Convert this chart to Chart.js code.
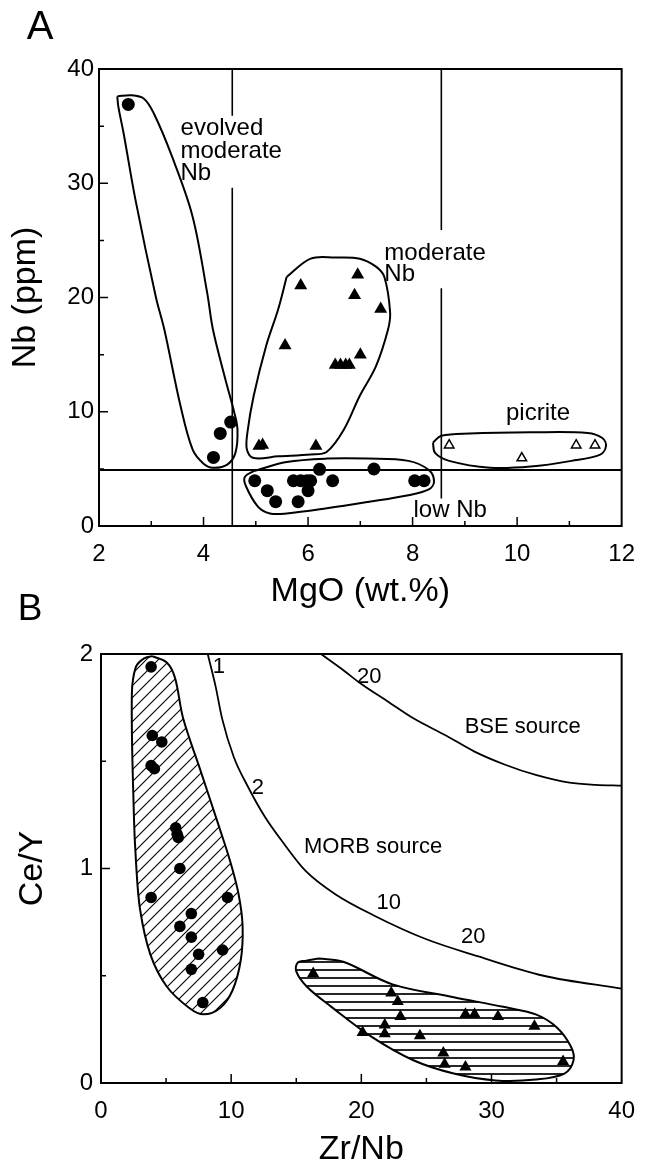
<!DOCTYPE html>
<html>
<head>
<meta charset="utf-8">
<script src="https://cdn.jsdelivr.net/npm/chart.js"></script>
<style>
  body { margin: 0; background: #fff; }
  canvas { position: absolute; left: 0; }
</style>
</head>
<body>
<canvas id="chartA" width="649" height="620" style="top:0"></canvas>
<canvas id="chartB" width="649" height="575" style="top:590px"></canvas>
<script>
// ---------- panel A : Nb vs MgO ----------
const aXTicks = [2, 4, 6, 8, 10, 12];
const aYTicks = [0, 10, 20, 30, 40];
const aXMinor = [3, 5, 7, 9, 11];
const aXMajorIn = [4, 6, 8, 10];
const aYMinor = [5, 15, 25, 35];
const aYMajorIn = [10, 20, 30];

const evolvedX = [2.56, 4.19, 4.32, 4.52];
const evolvedY = [36.9, 6.0, 8.1, 9.1];
const lowNbX = [4.98, 5.22, 5.38, 5.72, 5.86, 5.98, 6.05, 6.00, 5.81, 6.22, 6.47, 7.26, 8.04, 8.22];
const lowNbY = [3.96, 3.09, 2.13, 3.96, 3.96, 3.96, 3.96, 3.09, 2.13, 4.96, 3.96, 4.99, 3.96, 3.96];
const modNbX = [5.86, 6.95, 6.89, 7.39, 5.56, 7.00, 6.52, 6.62, 6.72, 6.79, 5.06, 5.13, 6.15];
const modNbY = [21.05, 22.0, 20.2, 19.0, 15.8, 15.0, 14.1, 14.1, 14.1, 14.1, 7.0, 7.1, 7.0];
const picriteX = [8.70, 10.09, 11.13, 11.49];
const picriteY = [7.07, 5.95, 7.07, 7.07];

const envEvolvedX = [2.35, 2.62, 2.86, 3.05, 3.40, 3.79, 4.07, 4.18, 4.42, 4.59, 4.65, 4.61, 4.46, 4.18, 3.99, 3.79, 3.56, 3.25, 3.09, 2.70, 2.47, 2.37, 2.35];
const envEvolvedY = [37.6, 37.7, 37.4, 36.1, 32.3, 27.1, 20.4, 17.2, 12.8, 9.9, 8.4, 6.4, 5.4, 5.1, 5.5, 6.7, 10.5, 17.2, 20, 28.5, 34.4, 36.7, 37.6];
const envModX = [5.59, 6.05, 6.52, 6.99, 7.30, 7.46, 7.57, 7.53, 7.30, 6.99, 6.68, 6.36, 6.05, 5.43, 4.96, 4.83, 4.84, 4.96, 5.20, 5.43, 5.59];
const envModY = [21.8, 23.4, 23.5, 23.4, 22.7, 21.8, 18.7, 17.2, 14.0, 11.4, 8.4, 6.5, 6.25, 6.1, 5.95, 6.7, 8.2, 11.4, 15.8, 19.0, 21.8];
const envLowX = [4.96, 5.59, 6.36, 7.14, 7.92, 8.31, 8.41, 8.31, 7.92, 7.14, 6.36, 5.59, 5.27, 5.04, 4.81, 4.79, 4.96];
const envLowY = [4.8, 5.6, 5.9, 5.9, 5.7, 4.9, 3.9, 3.2, 2.7, 2.1, 1.55, 1.1, 1.1, 1.7, 3.5, 4.3, 4.8];
const envPicX = [8.39, 8.55, 9.09, 10.26, 11.35, 11.63, 11.70, 11.59, 11.04, 10.26, 9.48, 8.70, 8.43, 8.39];
const envPicY = [7.3, 7.9, 8.1, 8.2, 8.15, 7.7, 7.0, 6.25, 5.7, 5.2, 5.1, 5.7, 6.4, 7.3];

// dividing lines (MgO = 4.55 and 8.55, Nb = 4.9), with gaps for the labels
const divMgO = [4.55, 4.55, 8.55, 8.55];
const divMgOFrom = [40, 29.6, 40, 20.8];
const divMgOTo = [35.9, 0, 25.9, 2.4];
const divNb = 4.9;

const aLabelText = ["evolved", "moderate", "Nb", "moderate", "Nb", "picrite", "low Nb"];
const aLabelX = [3.56, 3.56, 3.56, 7.46, 7.46, 10.40, 8.72];
const aLabelY = [34.8, 32.8, 30.9, 23.9, 22.0, 9.9, 1.4];
const aLabelAlign = ["left", "left", "left", "left", "left", "center", "center"];

// ---------- panel B : Ce/Y vs Zr/Nb ----------
const bXTicks = [0, 10, 20, 30, 40];
const bYTicks = [0, 1, 2];
const bXMinor = [5, 15, 25, 35];
const bXMajorIn = [10, 20, 30];
const bYMinor = [0.5, 1.5];
const bYMajorIn = [1];

const circB_X = [3.85, 3.94, 4.67, 3.85, 4.10, 5.74, 5.93, 5.85, 6.06, 3.85, 9.72, 6.94, 6.06, 6.94, 9.34, 7.50, 6.94, 7.82];
const circB_Y = [1.94, 1.62, 1.59, 1.48, 1.465, 1.19, 1.145, 1.16, 1.0, 0.865, 0.865, 0.79, 0.73, 0.68, 0.62, 0.60, 0.53, 0.375];
const triB_X = [16.3, 22.3, 22.8, 23.0, 28.0, 28.7, 30.5, 33.3, 20.1, 21.8, 21.8, 24.5, 26.3, 26.4, 28.0, 35.5];
const triB_Y = [0.51, 0.42, 0.38, 0.31, 0.32, 0.32, 0.31, 0.265, 0.235, 0.27, 0.23, 0.22, 0.14, 0.087, 0.075, 0.10];

const morbX = [8.2, 8.8, 9.3, 10.2, 11.3, 12.6, 14.0, 15.7, 18, 21, 25, 29, 34, 40];
const morbY = [2.0, 1.85, 1.7, 1.52, 1.38, 1.24, 1.12, 0.99, 0.88, 0.78, 0.67, 0.59, 0.5, 0.44];
const bseX = [16.9, 18.5, 20, 22, 24, 26.5, 28.7, 31, 33.4, 36, 38, 40];
const bseY = [2.0, 1.93, 1.86, 1.78, 1.70, 1.62, 1.545, 1.485, 1.436, 1.40, 1.39, 1.386];

const envLeftX = [3.94, 5.05, 5.68, 6.31, 7.57, 9.15, 9.94, 10.57, 10.88, 10.73, 10.09, 9.15, 7.89, 6.78, 5.05, 3.79, 3.0, 2.68, 2.52, 2.37, 2.68, 3.31, 3.94];
const envLeftY = [1.99, 1.96, 1.89, 1.70, 1.47, 1.18, 1.03, 0.88, 0.73, 0.57, 0.43, 0.35, 0.32, 0.35, 0.45, 0.60, 0.81, 1.04, 1.26, 1.81, 1.94, 1.98, 1.99];
const envRightX = [16.72, 18.61, 22.4, 27.1, 30.9, 33.4, 35.0, 36.1, 36.3, 35.6, 33.4, 30.3, 27.1, 24.0, 20.8, 17.7, 15.8, 15.0, 15.1, 15.77, 16.72];
const envRightY = [0.58, 0.565, 0.46, 0.40, 0.355, 0.32, 0.26, 0.17, 0.105, 0.044, 0.016, 0.012, 0.044, 0.106, 0.215, 0.355, 0.45, 0.52, 0.56, 0.57, 0.58];

const bLabelText = ["1", "20", "BSE source", "2", "MORB source", "10", "20"];
const bLabelX = [9.05, 20.6, 32.4, 12.05, 20.9, 22.1, 28.6];
const bLabelY = [1.94, 1.895, 1.66, 1.375, 1.10, 0.84, 0.68];
const bLabelAlign = ["center", "center", "center", "center", "center", "center", "center"];

const FONT = '"Liberation Sans", Arial, Helvetica, sans-serif';
Chart.defaults.font.family = FONT;
Chart.defaults.color = '#000';

function pts(xs, ys) {
    return xs.map((x, i) => ({ x: x, y: ys[i] }));
}

function hatch(kind) {
    const c = document.createElement('canvas');
    const s = kind === 'diag' ? 12 : 8;
    c.width = s; c.height = s;
    const g = c.getContext('2d');
    g.strokeStyle = '#000';
    if (kind === 'diag') {
        g.lineWidth = 1.1;
        g.beginPath();
        g.moveTo(0, s); g.lineTo(s, 0);
        g.moveTo(-1, 1); g.lineTo(1, -1);
        g.moveTo(s - 1, s + 1); g.lineTo(s + 1, s - 1);
        g.stroke();
    } else {
        g.lineWidth = 1.7;
        g.beginPath();
        g.moveTo(0, s / 2); g.lineTo(s, s / 2);
        g.stroke();
    }
    return g.createPattern(c, 'repeat');
}

function pointSet(xs, ys, style, r, fill) {
    return {
        data: pts(xs, ys),
        pointStyle: style,
        pointRadius: r,
        pointBackgroundColor: fill,
        pointBorderColor: '#000',
        pointBorderWidth: fill === '#000' ? 0 : 1.5,
        showLine: false,
        order: 0
    };
}

function outline(xs, ys, width, fillPattern) {
    return {
        data: pts(xs, ys),
        showLine: true,
        pointRadius: 0,
        borderColor: '#000',
        borderWidth: width,
        tension: 0.35,
        fill: fillPattern ? 'shape' : false,
        backgroundColor: fillPattern || 'transparent',
        order: 1
    };
}

function curve(xs, ys) {
    return {
        data: pts(xs, ys),
        showLine: true,
        pointRadius: 0,
        borderColor: '#000',
        borderWidth: 1.8,
        cubicInterpolationMode: 'monotone',
        fill: false,
        order: 1
    };
}

// frame, inward ticks, text labels and panel letter
const framePlugin = {
    id: 'frameTicks',
    afterDatasetsDraw(chart, args, o) {
        const ctx = chart.ctx;
        const a = chart.chartArea;
        const x = chart.scales.x, y = chart.scales.y;
        ctx.save();
        ctx.strokeStyle = '#000';
        ctx.lineWidth = 2;
        ctx.strokeRect(a.left, a.top, a.right - a.left, a.bottom - a.top);
        ctx.lineWidth = 1.5;
        ctx.beginPath();
        o.xMinor.forEach(v => { const p = x.getPixelForValue(v); ctx.moveTo(p, a.bottom); ctx.lineTo(p, a.bottom - 5); });
        o.xMajor.forEach(v => { const p = x.getPixelForValue(v); ctx.moveTo(p, a.bottom); ctx.lineTo(p, a.bottom - 9); });
        o.yMinor.forEach(v => { const p = y.getPixelForValue(v); ctx.moveTo(a.left, p); ctx.lineTo(a.left + 5, p); });
        o.yMajor.forEach(v => { const p = y.getPixelForValue(v); ctx.moveTo(a.left, p); ctx.lineTo(a.left + 9, p); });
        ctx.stroke();

        ctx.fillStyle = '#000';
        ctx.textBaseline = 'middle';
        ctx.font = o.labelFont;
        o.text.forEach((t, i) => {
            ctx.textAlign = o.align[i];
            ctx.fillText(t, x.getPixelForValue(o.lx[i]), y.getPixelForValue(o.ly[i]));
        });

        ctx.font = o.letterFont;
        ctx.textAlign = 'center';
        ctx.fillText(o.letter, o.letterX, o.letterY);
        ctx.restore();
    }
};

function axes(xMin, xMax, yMin, yMax, xTicks, yTicks, xTitle, yTitle, yWidth, xHeight, yPad, xTitlePad, yTitlePad, xLH) {
    return {
        x: {
            type: 'linear', min: xMin, max: xMax,
            afterBuildTicks: s => { s.ticks = xTicks.map(v => ({ value: v })); },
            afterFit: s => { s.height = xHeight; },
            grid: { display: false, drawTicks: false },
            border: { display: false },
            ticks: { padding: 14, font: { size: 24 }, color: '#000' },
            title: { display: true, text: xTitle, font: { size: 34, lineHeight: xLH }, padding: { top: 0, bottom: xTitlePad }, color: '#000' }
        },
        y: {
            type: 'linear', min: yMin, max: yMax,
            afterBuildTicks: s => { s.ticks = yTicks.map(v => ({ value: v })); },
            afterFit: s => { s.width = yWidth; },
            grid: { display: false, drawTicks: false },
            border: { display: false },
            ticks: { padding: yPad, font: { size: 24 }, color: '#000' },
            title: { display: true, text: yTitle, font: { size: 34, lineHeight: 1 }, padding: { top: yTitlePad, bottom: 0 }, color: '#000' }
        }
    };
}

const baseOpts = {
    responsive: false,
    animation: false,
    events: [],
    plugins: { legend: { display: false }, tooltip: { enabled: false } }
};

// ----- chart A -----
const aDatasets = [
    pointSet(evolvedX, evolvedY, 'circle', 6.5, '#000'),
    pointSet(lowNbX, lowNbY, 'circle', 6.5, '#000'),
    pointSet(modNbX, modNbY, 'triangle', 7.5, '#000'),
    pointSet(picriteX, picriteY, 'triangle', 5.5, '#fff'),
    outline(envEvolvedX, envEvolvedY, 2),
    outline(envModX, envModY, 2),
    outline(envLowX, envLowY, 2),
    outline(envPicX, envPicY, 2)
];
divMgO.forEach((v, i) => {
    aDatasets.push({
        data: [{ x: v, y: divMgOFrom[i] }, { x: v, y: divMgOTo[i] }],
        showLine: true, pointRadius: 0, borderColor: '#000', borderWidth: 1.6, order: 2
    });
});
aDatasets.push({
    data: [{ x: aXTicks[0], y: divNb }, { x: aXTicks[aXTicks.length - 1], y: divNb }],
    showLine: true, pointRadius: 0, borderColor: '#000', borderWidth: 1.8, order: 2
});

new Chart(document.getElementById('chartA'), {
    type: 'scatter',
    data: { datasets: aDatasets },
    options: Object.assign({}, baseOpts, {
        layout: { padding: { top: 69, right: 19, left: 0, bottom: 0 } },
        scales: axes(2, 12, 0, 40, aXTicks, aYTicks, 'MgO (wt.%)', 'Nb (ppm)', 99, 94, 5, 11, 9, 1),
        plugins: Object.assign({}, baseOpts.plugins, {
            frameTicks: {
                xMinor: aXMinor, xMajor: aXMajorIn, yMinor: aYMinor, yMajor: aYMajorIn,
                text: aLabelText, lx: aLabelX, ly: aLabelY, align: aLabelAlign,
                labelFont: '24px ' + FONT,
                letter: 'A', letterX: 40, letterY: 28, letterFont: '40px ' + FONT
            }
        })
    }),
    plugins: [framePlugin]
});

// ----- chart B -----
const bDatasets = [
    pointSet(circB_X, circB_Y, 'circle', 5.8, '#000'),
    pointSet(triB_X, triB_Y, 'triangle', 7, '#000'),
    outline(envLeftX, envLeftY, 2, hatch('diag')),
    outline(envRightX, envRightY, 2, hatch('horiz')),
    curve(morbX, morbY),
    curve(bseX, bseY)
];

new Chart(document.getElementById('chartB'), {
    type: 'scatter',
    data: { datasets: bDatasets },
    options: Object.assign({}, baseOpts, {
        layout: { padding: { top: 64, right: 25, left: 0, bottom: 0 } },
        scales: axes(0, 40, 0, 2, bXTicks, bYTicks, 'Zr/Nb', 'Ce/Y', 101, 82, 8, 2, 16, 0.8),
        plugins: Object.assign({}, baseOpts.plugins, {
            frameTicks: {
                xMinor: bXMinor, xMajor: bXMajorIn, yMinor: bYMinor, yMajor: bYMajorIn,
                text: bLabelText, lx: bLabelX, ly: bLabelY, align: bLabelAlign,
                labelFont: '22px ' + FONT,
                letter: 'B', letterX: 30, letterY: 20, letterFont: '37px ' + FONT
            }
        })
    }),
    plugins: [framePlugin]
});
</script>
</body>
</html>
